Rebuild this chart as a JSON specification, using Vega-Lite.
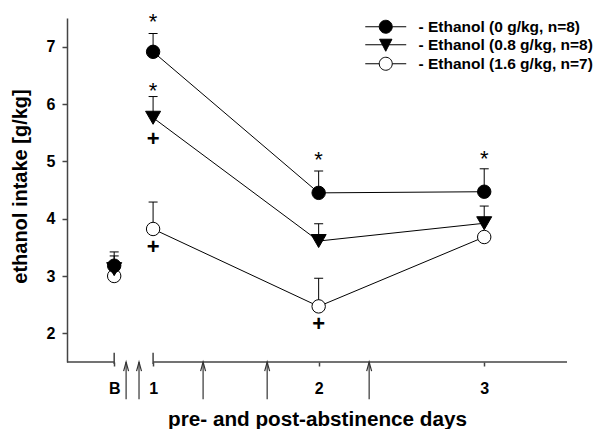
{
  "$schema": "https://vega.github.io/schema/vega-lite/v6.json",
  "width": 500,
  "height": 344,
  "autosize": {"type": "none"},
  "padding": {"left": 67, "top": 18, "right": 29, "bottom": 67},
  "background": "white",
  "config": {"view": {"stroke": null}, "font": "Liberation Sans", "axis": {"grid": false}},
  "datasets": {
    "pts": [
      {"g": "0", "x": 0.765, "y": 3.18, "hi": 3.42},
      {"g": "0", "x": 1, "y": 6.91, "hi": 7.23},
      {"g": "0", "x": 2, "y": 4.45, "hi": 4.83},
      {"g": "0", "x": 3, "y": 4.47, "hi": 4.87},
      {"g": "0.8", "x": 0.765, "y": 3.12, "hi": 3.35},
      {"g": "0.8", "x": 1, "y": 5.76, "hi": 6.13},
      {"g": "0.8", "x": 2, "y": 3.61, "hi": 3.91},
      {"g": "0.8", "x": 3, "y": 3.92, "hi": 4.22},
      {"g": "1.6", "x": 0.765, "y": 3.0, "hi": null},
      {"g": "1.6", "x": 1, "y": 3.82, "hi": 4.29},
      {"g": "1.6", "x": 2, "y": 2.47, "hi": 2.96},
      {"g": "1.6", "x": 3, "y": 3.68, "hi": null}
    ],
    "ann": [
      {"x": 1, "y": 7.51, "t": "*"},
      {"x": 1, "y": 6.32, "t": "*"},
      {"x": 2, "y": 5.11, "t": "*"},
      {"x": 3, "y": 5.13, "t": "*"},
      {"x": 1, "y": 5.39, "t": "+"},
      {"x": 1, "y": 3.5, "t": "+"},
      {"x": 2, "y": 2.17, "t": "+"}
    ],
    "arrows": [
      {"x": 0.837, "y": 0.85, "y2": 1.5, "head": 1.42},
      {"x": 0.915, "y": 0.85, "y2": 1.5, "head": 1.42},
      {"x": 1.302, "y": 0.85, "y2": 1.5, "head": 1.42},
      {"x": 1.689, "y": 0.85, "y2": 1.5, "head": 1.42},
      {"x": 2.305, "y": 0.85, "y2": 1.5, "head": 1.42}
    ],
    "axisline": [
      {"x": 0.48, "x2": 0.765, "y": 1.5},
      {"x": 1, "x2": 3.5, "y": 1.5}
    ],
    "breaks": [
      {"x": 0.765, "y": 1.465, "y2": 1.66},
      {"x": 1, "y": 1.465, "y2": 1.66}
    ]
  },
  "layer": [
    {
      "data": {"name": "pts"},
      "transform": [{"filter": "datum.x >= 1"}],
      "mark": {"type": "line", "color": "black", "strokeWidth": 1},
      "encoding": {
        "x": {"field": "x", "type": "quantitative", "scale": {"domain": [0.48, 3.5], "nice": false, "zero": false},
          "axis": {"title": "pre- and post-abstinence days", "values": [0.765, 1, 2, 3],
            "labelExpr": "datum.value < 0.9 ? 'B' : format(datum.value, 'd')",
            "domain": false, "tickSize": 4, "tickColor": "#444", "tickWidth": 1.5,
            "labelPadding": 14, "labelFontSize": 16, "labelFontWeight": "bold", "labelColor": "black",
            "labelFlush": false, "labelOverlap": false,
            "titleFontSize": 20.7, "titleFontWeight": "bold", "titleColor": "black",
            "titleY": 63, "titleBaseline": "alphabetic"}},
        "y": {"field": "y", "type": "quantitative", "scale": {"domain": [1.5, 7.5], "nice": false, "zero": false},
          "axis": {"title": "ethanol intake [g/kg]", "values": [2, 3, 4, 5, 6, 7], "format": "d",
            "domainColor": "#444", "domainWidth": 1.5, "tickSize": 5, "tickColor": "#444", "tickWidth": 1.5,
            "labelPadding": 7, "labelFontSize": 16, "labelFontWeight": "bold", "labelColor": "black", "labelFlush": false,
            "titleFontSize": 20, "titleFontWeight": "bold", "titleColor": "black",
            "titleX": -41, "titleY": 168, "titleAngle": -90, "titleBaseline": "alphabetic", "titleAlign": "center"}},
        "detail": {"field": "g"}
      }
    },
    {
      "data": {"name": "axisline"},
      "mark": {"type": "rule", "color": "#444", "strokeWidth": 1.5},
      "encoding": {
        "x": {"field": "x", "type": "quantitative"},
        "x2": {"field": "x2"},
        "y": {"field": "y", "type": "quantitative"}
      }
    },
    {
      "data": {"name": "breaks"},
      "mark": {"type": "rule", "color": "#444", "strokeWidth": 1.5},
      "encoding": {
        "x": {"field": "x", "type": "quantitative"},
        "y": {"field": "y", "type": "quantitative"},
        "y2": {"field": "y2"}
      }
    },
    {
      "data": {"name": "arrows"},
      "mark": {"type": "rule", "color": "#333", "strokeWidth": 1.2},
      "encoding": {
        "x": {"field": "x", "type": "quantitative"},
        "y": {"field": "y", "type": "quantitative"},
        "y2": {"field": "y2"}
      }
    },
    {
      "data": {"name": "arrows"},
      "mark": {"type": "point", "shape": "M-0.55,1L0,-1L0.55,1", "size": 81, "filled": false, "stroke": "#333", "strokeWidth": 1.2, "opacity": 1},
      "encoding": {
        "x": {"field": "x", "type": "quantitative"},
        "y": {"field": "head", "type": "quantitative"}
      }
    },
    {
      "data": {"name": "pts"},
      "transform": [{"filter": "isValid(datum.hi)"}],
      "mark": {"type": "rule", "color": "black", "strokeWidth": 1},
      "encoding": {
        "x": {"field": "x", "type": "quantitative"},
        "y": {"field": "y", "type": "quantitative"},
        "y2": {"field": "hi"}
      }
    },
    {
      "data": {"name": "pts"},
      "transform": [{"filter": "isValid(datum.hi)"}],
      "mark": {"type": "tick", "orient": "horizontal", "color": "black", "size": 9, "thickness": 1, "opacity": 1},
      "encoding": {
        "x": {"field": "x", "type": "quantitative"},
        "y": {"field": "hi", "type": "quantitative"}
      }
    },
    {
      "data": {"name": "pts"},
      "transform": [{"filter": "datum.g === '1.6'"}],
      "mark": {"type": "point", "shape": "circle", "filled": true, "fill": "white", "stroke": "black", "strokeWidth": 1, "opacity": 1, "size": 180},
      "encoding": {
        "x": {"field": "x", "type": "quantitative"},
        "y": {"field": "y", "type": "quantitative"}
      }
    },
    {
      "data": {"name": "pts"},
      "transform": [{"filter": "datum.g === '0.8'"}],
      "mark": {"type": "point", "shape": "M-1.12,-0.97L1.12,-0.97L0,0.97Z", "filled": true, "fill": "black", "stroke": "black", "strokeWidth": 1, "opacity": 1, "size": 180},
      "encoding": {
        "x": {"field": "x", "type": "quantitative"},
        "y": {"field": "y", "type": "quantitative"}
      }
    },
    {
      "data": {"name": "pts"},
      "transform": [{"filter": "datum.g === '0'"}],
      "mark": {"type": "point", "shape": "circle", "filled": true, "fill": "black", "stroke": "black", "strokeWidth": 1, "opacity": 1, "size": 180},
      "encoding": {
        "x": {"field": "x", "type": "quantitative"},
        "y": {"field": "y", "type": "quantitative"}
      }
    },
    {
      "data": {"name": "pts"},
      "transform": [{"filter": "false"}],
      "mark": {"type": "point", "filled": true, "strokeWidth": 1, "opacity": 1, "size": 169},
      "encoding": {
        "x": {"field": "x", "type": "quantitative"},
        "y": {"field": "y", "type": "quantitative"},
        "shape": {"field": "g", "type": "nominal", "scale": {"domain": ["0", "0.8", "1.6"],
          "range": ["M-3.15,0H-1M1,0H3.15M-1,0A1,1,0,1,0,1,0A1,1,0,1,0,-1,0Z", "M-3.15,0H3.15M-0.95,-0.85L0.95,-0.85L0,1Z", "M-3.15,0H-1M1,0H3.15M-1,0A1,1,0,1,0,1,0A1,1,0,1,0,-1,0Z"]},
          "legend": {"title": null, "orient": "none", "legendX": 311, "legendY": 1,
            "symbolSize": 169, "symbolStrokeWidth": 1, "symbolOpacity": 1, "labelLimit": 400,
            "labelFontSize": 15.5, "labelFontWeight": "bold", "labelColor": "black", "labelOffset": 25, "rowPadding": 1,
            "labelExpr": "datum.value === '0' ? '- Ethanol (0 g/kg, n=8)' : datum.value === '0.8' ? '- Ethanol (0.8 g/kg, n=8)' : '- Ethanol (1.6 g/kg, n=7)'"}},
        "fill": {"field": "g", "type": "nominal", "scale": {"domain": ["0", "0.8", "1.6"], "range": ["black", "black", "white"]},
          "legend": {"title": null, "orient": "none", "legendX": 311, "legendY": 1,
            "symbolSize": 169, "symbolStrokeWidth": 1, "symbolOpacity": 1, "labelLimit": 400,
            "labelFontSize": 15.5, "labelFontWeight": "bold", "labelColor": "black", "labelOffset": 25, "rowPadding": 1,
            "labelExpr": "datum.value === '0' ? '- Ethanol (0 g/kg, n=8)' : datum.value === '0.8' ? '- Ethanol (0.8 g/kg, n=8)' : '- Ethanol (1.6 g/kg, n=7)'"}},
        "stroke": {"field": "g", "type": "nominal", "scale": {"domain": ["0", "0.8", "1.6"], "range": ["black", "black", "black"]},
          "legend": {"title": null, "orient": "none", "legendX": 311, "legendY": 1,
            "symbolSize": 169, "symbolStrokeWidth": 1, "symbolOpacity": 1, "labelLimit": 400,
            "labelFontSize": 15.5, "labelFontWeight": "bold", "labelColor": "black", "labelOffset": 25, "rowPadding": 1,
            "labelExpr": "datum.value === '0' ? '- Ethanol (0 g/kg, n=8)' : datum.value === '0.8' ? '- Ethanol (0.8 g/kg, n=8)' : '- Ethanol (1.6 g/kg, n=7)'"}}
      }
    },
    {
      "data": {"name": "ann"},
      "transform": [{"filter": "datum.t === '*'"}],
      "mark": {"type": "text", "fontSize": 22, "baseline": "alphabetic", "align": "center", "dy": 12, "color": "black"},
      "encoding": {
        "x": {"field": "x", "type": "quantitative"},
        "y": {"field": "y", "type": "quantitative"},
        "text": {"field": "t"}
      }
    },
    {
      "data": {"name": "ann"},
      "transform": [{"filter": "datum.t === '+'"}],
      "mark": {"type": "text", "fontSize": 22, "fontWeight": "bold", "baseline": "alphabetic", "align": "center", "dy": 7, "color": "black"},
      "encoding": {
        "x": {"field": "x", "type": "quantitative"},
        "y": {"field": "y", "type": "quantitative"},
        "text": {"field": "t"}
      }
    }
  ]
}
